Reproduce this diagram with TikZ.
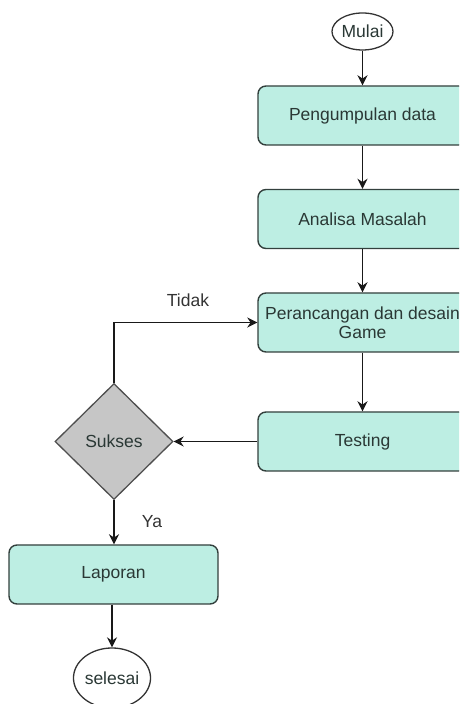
\documentclass[tikz,border=0pt]{standalone}
\usepackage{fontspec}
\setmainfont{Liberation Sans}
\usetikzlibrary{shapes.geometric,arrows.meta}
\definecolor{boxfill}{HTML}{BDEEE3}
\definecolor{boxline}{HTML}{33403D}
\definecolor{txt}{HTML}{2A3835}
\definecolor{dfill}{HTML}{C6C6C6}
\definecolor{dline}{HTML}{4F4F4F}
\tikzset{
  every node/.style={font=\fontsize{17.5}{20}\selectfont, text=txt},
  procbox/.style={draw=boxline, fill=boxfill, line width=1.4pt, rounded corners=8pt,
    minimum width=209pt, minimum height=59pt, inner sep=2pt, align=center},
  terminal/.style={draw=black!80, fill=white, line width=1.3pt, ellipse, inner sep=0pt},
  decision/.style={draw=dline, fill=dfill, line width=1.3pt, diamond, inner sep=0pt,
    minimum width=118pt, minimum height=116pt},
  flow/.style={draw=black!90, line width=1.5pt, -{Stealth[length=10pt,width=10pt]}},
  lbl/.style={text=black!80}
}
\begin{document}
\begin{tikzpicture}[x=1pt,y=1pt]
\clip (0,0) rectangle (459,704);
\node[terminal, minimum width=61pt, minimum height=37pt] (mulai) at (362.5,672.5) {Mulai};
\node[procbox] (p1) at (362.5,588.5) {Pengumpulan data};
\node[procbox] (p2) at (362.5,485) {Analisa Masalah};
\node[procbox] (p3) at (362.5,381.5) {Perancangan dan desain\\[-1pt]Game};
\node[procbox] (p4) at (362.5,262.5) {Testing};
\node[decision] (sukses) at (114,262.5) {Sukses};
\node[procbox] (lap) at (113.5,129.5) {Laporan};
\node[terminal, minimum width=60pt, minimum height=60pt] (selesai) at (112,26) {selesai};
\node[lbl] (tidak) at (188,404) {Tidak};
\node[lbl] (ya) at (152,182) {Ya};
\draw[flow] (mulai) -- (p1);
\draw[flow] (p1) -- (p2);
\draw[flow] (p2) -- (p3);
\draw[flow] (p3) -- (p4);
\draw[flow] (p4) -- (sukses);
\draw[flow] (sukses.north) |- (p3.west);
\draw[flow] (sukses.south) -- (lap.north -| sukses.south);
\draw[flow] (lap.south -| selesai.north) -- (selesai);
\end{tikzpicture}
\end{document}
